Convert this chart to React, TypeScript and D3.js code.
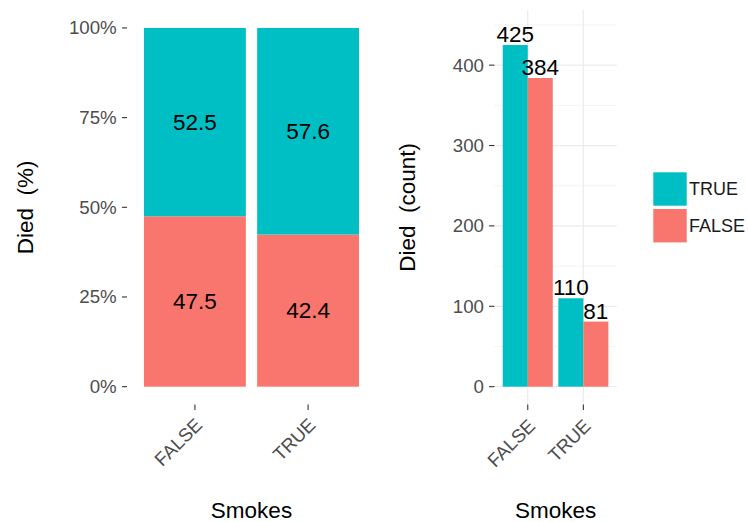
import React from "react";
import * as d3 from "d3";

const categories = ["FALSE", "TRUE"];
const diedLevels = ["TRUE", "FALSE"];
const pctTrue = [52.5, 57.6];
const pctFalse = [47.5, 42.4];
const countTrue = [425, 110];
const countFalse = [384, 81];
const pctTicks = [0, 0.25, 0.5, 0.75, 1];
const pctTickLabels = ["0%", "25%", "50%", "75%", "100%"];
const countTicks = [0, 100, 200, 300, 400];
const countMinor = [50, 150, 250, 350, 450];

const TEAL = "#00BFC4";
const SALMON = "#F8766D";
const FONT = "'Liberation Sans', Arial, Helvetica, sans-serif";

export default function App() {
  const top = 10;
  const bottom = 404.6;
  // left panel
  const xL = d3.scaleLinear().domain([0.4, 2.6]).range([127, 376]);
  const yL = d3.scaleLinear().domain([-0.05, 1.05]).range([bottom, top]);
  // right panel
  const xR = d3.scaleLinear().domain([0.4, 2.6]).range([494.4, 616.7]);
  const yR = d3.scaleLinear().domain([-22.3, 468.6]).range([bottom, top]);

  const barW = 0.9;
  const tickCol = "#333333";
  const tickLabCol = "#4D4D4D";

  return (
    <svg
      width={748}
      height={522}
      style={{ position: "absolute", left: 0, top: 0, background: "#fff" }}
      fontFamily={FONT}
    >
      <rect x={0} y={0} width={748} height={522} fill="#fff" />
      {/* LEFT PANEL */}
      {categories.map((c, i) => {
        const cx = i + 1;
        const x0 = xL(cx - barW / 2);
        const w = xL(cx + barW / 2) - x0;
        const f = pctFalse[i] / 100;
        return (
          <g key={"l" + c}>
            <rect x={x0} y={yL(f)} width={w} height={yL(0) - yL(f)} fill={SALMON} />
            <rect x={x0} y={yL(1)} width={w} height={yL(f) - yL(1)} fill={TEAL} />
            <text x={xL(cx)} y={yL((1 + f) / 2)} textAnchor="middle" dominantBaseline="central" fontSize={22.5} fill="#000">
              {pctTrue[i].toFixed(1)}
            </text>
            <text x={xL(cx)} y={yL(f / 2)} textAnchor="middle" dominantBaseline="central" fontSize={22.5} fill="#000">
              {pctFalse[i].toFixed(1)}
            </text>
          </g>
        );
      })}
      {pctTicks.map((t, i) => (
        <g key={"lt" + i}>
          <line x1={122} x2={127} y1={yL(t)} y2={yL(t)} stroke={tickCol} strokeWidth={1.1} />
          <text x={116.7} y={yL(t)} textAnchor="end" dominantBaseline="central" fontSize={18.7} fill={tickLabCol}>
            {pctTickLabels[i]}
          </text>
        </g>
      ))}
      {categories.map((c, i) => (
        <g key={"lx" + c}>
          <line x1={xL(i + 1)} x2={xL(i + 1)} y1={bottom} y2={bottom + 5.5} stroke={tickCol} strokeWidth={1.1} />
          <text
            transform={`translate(${xL(i + 1) - 1},${bottom + 12}) rotate(-45)`}
            textAnchor="end"
            dy="0.72em"
            fontSize={18.7}
            fill={tickLabCol}
          >
            {c}
          </text>
        </g>
      ))}
      <text transform={`translate(33,${(top + bottom) / 2}) rotate(-90)`} textAnchor="middle" fontSize={22.5} fill="#000" style={{ whiteSpace: "pre" }}>
        {"Died  (%)"}
      </text>
      <text x={(xL(0.4) + xL(2.6)) / 2} y={518} textAnchor="middle" fontSize={22.5} fill="#000">
        Smokes
      </text>

      {/* RIGHT PANEL */}
      {countMinor.map((t) => (
        <line key={"rm" + t} x1={xR(0.4)} x2={xR(2.6)} y1={yR(t)} y2={yR(t)} stroke="#EBEBEB" strokeWidth={0.6} />
      ))}
      {countTicks.map((t) => (
        <line key={"rg" + t} x1={xR(0.4)} x2={xR(2.6)} y1={yR(t)} y2={yR(t)} stroke="#EBEBEB" strokeWidth={1.2} />
      ))}
      {categories.map((c, i) => (
        <line key={"rv" + c} x1={xR(i + 1)} x2={xR(i + 1)} y1={top} y2={bottom} stroke="#EBEBEB" strokeWidth={1.2} />
      ))}
      {categories.map((c, i) => {
        const cx = i + 1;
        const half = barW / 2;
        const xt0 = xR(cx - half);
        const xm = xR(cx);
        const xf1 = xR(cx + half);
        return (
          <g key={"r" + c}>
            <rect x={xt0} y={yR(countTrue[i])} width={xm - xt0} height={yR(0) - yR(countTrue[i])} fill={TEAL} />
            <rect x={xm} y={yR(countFalse[i])} width={xf1 - xm} height={yR(0) - yR(countFalse[i])} fill={SALMON} />
            <text x={(xt0 + xm) / 2} y={yR(countTrue[i]) - 3} textAnchor="middle" fontSize={22.5} fill="#000">
              {countTrue[i]}
            </text>
            <text x={(xm + xf1) / 2} y={yR(countFalse[i]) - 3} textAnchor="middle" fontSize={22.5} fill="#000">
              {countFalse[i]}
            </text>
          </g>
        );
      })}
      {countTicks.map((t) => (
        <g key={"rt" + t}>
          <line x1={489} x2={494.4} y1={yR(t)} y2={yR(t)} stroke={tickCol} strokeWidth={1.1} />
          <text x={484} y={yR(t)} textAnchor="end" dominantBaseline="central" fontSize={18.7} fill={tickLabCol}>
            {t}
          </text>
        </g>
      ))}
      {categories.map((c, i) => (
        <g key={"rx" + c}>
          <line x1={xR(i + 1)} x2={xR(i + 1)} y1={bottom} y2={bottom + 5.5} stroke={tickCol} strokeWidth={1.1} />
          <text
            transform={`translate(${xR(i + 1) - 1},${bottom + 13}) rotate(-45)`}
            textAnchor="end"
            dy="0.72em"
            fontSize={18.7}
            fill={tickLabCol}
          >
            {c}
          </text>
        </g>
      ))}
      <text transform={`translate(415,${(top + bottom) / 2}) rotate(-90)`} textAnchor="middle" fontSize={22.5} fill="#000" style={{ whiteSpace: "pre" }}>
        {"Died  (count)"}
      </text>
      <text x={(xR(0.4) + xR(2.6)) / 2} y={518} textAnchor="middle" fontSize={22.5} fill="#000">
        Smokes
      </text>

      {/* LEGEND */}
      {diedLevels.map((lv, i) => (
        <g key={"lg" + lv}>
          <rect x={653.3} y={172.3 + i * 36.7} width={33.4} height={33.4} fill={lv === "TRUE" ? TEAL : SALMON} />
          <text x={689} y={189 + i * 36.7} dominantBaseline="central" fontSize={18} fill="#1A1A1A">
            {lv}
          </text>
        </g>
      ))}
    </svg>
  );
}
